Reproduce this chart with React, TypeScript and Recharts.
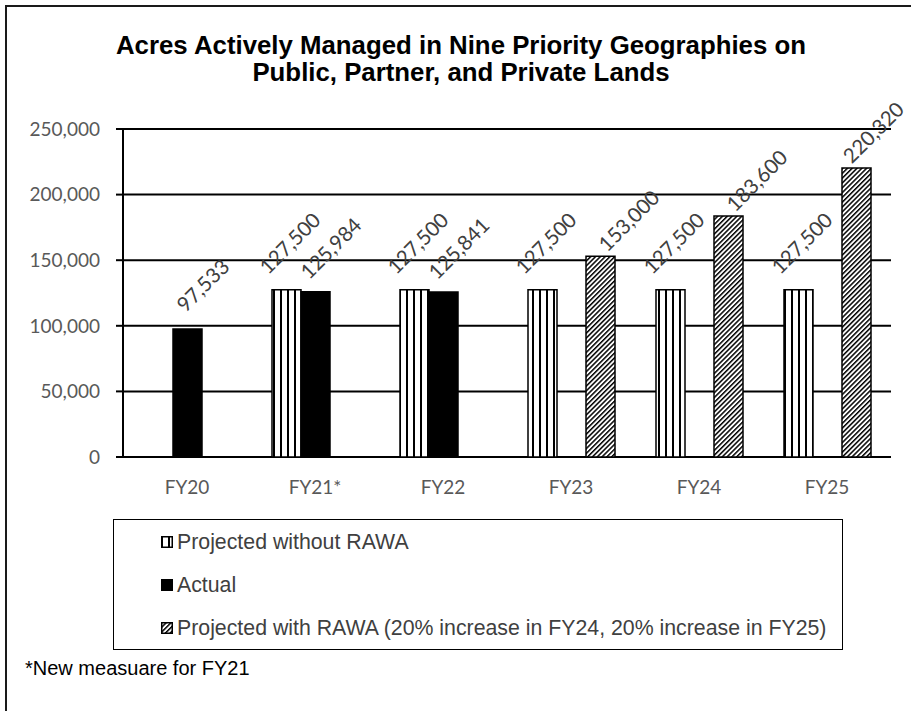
import React from "react";
import { BarChart, Bar, XAxis, YAxis, CartesianGrid, LabelList } from "recharts";

const categories = ["FY20", "FY21*", "FY22", "FY23", "FY24", "FY25"];
const projectedWithout = [null, 127500, 127500, 127500, 127500, 127500];
const actual = [97533, 125984, 125841, null, null, null];
const projectedWith = [null, null, null, 153000, 183600, 220320];
const yTicks = [0, 50000, 100000, 150000, 200000, 250000];
const boundaryTicks = [0, 1, 2, 3, 4, 5, 6];

const seriesNames = {
  without: "Projected without RAWA",
  actual: "Actual",
  with: "Projected with RAWA (20% increase in FY24, 20% increase in FY25)",
};

const data = categories.map((c, i) => ({
  cat: c,
  without: projectedWithout[i],
  actual: actual[i],
  with: projectedWith[i],
}));

const fmt = (v: number) => v.toLocaleString("en-US");
const tickFont = "Lato, 'Open Sans', sans-serif";

const makeLabel = (dx: number, dy: number) => (props: any) => {
  const { x, y, width, value } = props;
  if (value === null || value === undefined) return null;
  const cx = Math.min(Number(x) + Number(width) / 2 + dx, 873);
  const cy = Number(y) + dy;
  return (
    <text
      x={cx}
      y={cy}
      textAnchor="middle"
      dominantBaseline="central"
      fill="#404040"
      fontSize={20.5}
      fontFamily={tickFont}
      transform={`rotate(-45 ${cx} ${cy})`}
    >
      {fmt(Number(value))}
    </text>
  );
};

const LegendIcon = ({ fill }: { fill: string }) => (
  <svg width={12} height={12} style={{ display: "block", marginRight: 4 }}>
    <rect x={0.75} y={0.75} width={10.5} height={10.5} fill={fill} stroke="#000" strokeWidth={1.5} />
  </svg>
);

export default function App() {
  return (
    <div
      style={{
        position: "absolute",
        left: 0,
        top: 0,
        width: 911,
        height: 711,
        background: "#fff",
        overflow: "hidden",
      }}
    >
      <svg width={0} height={0} style={{ position: "absolute" }}>
        <defs>
          <pattern id="vstripe" patternUnits="userSpaceOnUse" width={7} height={10}>
            <rect x={0} y={0} width={7} height={10} fill="#fff" />
            <rect x={0} y={0} width={2} height={10} fill="#000" />
          </pattern>
          <pattern
            id="hatch"
            patternUnits="userSpaceOnUse"
            width={3.4}
            height={3.4}
            patternTransform="rotate(45)"
          >
            <rect x={0} y={0} width={3.4} height={3.4} fill="#fff" />
            <rect x={0} y={0} width={1.5} height={3.4} fill="#000" />
          </pattern>
        </defs>
      </svg>

      <div
        style={{
          position: "absolute",
          left: 5,
          top: 5,
          right: -10,
          bottom: -10,
          borderLeft: "2px solid #1a1a1a",
          borderTop: "2px solid #1a1a1a",
        }}
      />

      <div
        style={{
          position: "absolute",
          left: 0,
          width: 922,
          top: 32,
          textAlign: "center",
          fontFamily: "'Liberation Sans', Arial, sans-serif",
          fontWeight: "bold",
          fontSize: 25.8,
          lineHeight: "27px",
          color: "#000",
        }}
      >
        Acres Actively Managed in Nine Priority Geographies on
        <br />
        Public, Partner, and Private Lands
      </div>

      <div style={{ position: "absolute", left: 0, top: 0 }}>
        <BarChart
          width={911}
          height={520}
          data={data}
          margin={{ top: 129, right: 20, left: 23, bottom: 23 }}
          barCategoryGap={21}
          barGap={0}
        >
          <CartesianGrid vertical={false} stroke="#000" strokeWidth={2} />
          <XAxis
            xAxisId="bounds"
            type="number"
            domain={[0, 6]}
            ticks={boundaryTicks}
            tick={false}
            tickSize={8}
            height={0}
            axisLine={{ stroke: "#000", strokeWidth: 2 }}
            tickLine={{ stroke: "#000", strokeWidth: 2 }}
            allowDataOverflow
          />
          <XAxis
            dataKey="cat"
            height={40}
            axisLine={false}
            tickLine={false}
            tickSize={8}
            tickMargin={16}
            interval={0}
            tick={{ fill: "#595959", fontSize: 19, fontFamily: tickFont }}
          />
          <YAxis
            width={100}
            domain={[0, 250000]}
            ticks={yTicks}
            tickFormatter={fmt}
            tickSize={7}
            tickMargin={16}
            axisLine={{ stroke: "#000", strokeWidth: 2 }}
            tickLine={{ stroke: "#000", strokeWidth: 2 }}
            tick={{ fill: "#595959", fontSize: 19, fontFamily: tickFont }}
          />
          <YAxis
            yAxisId="r"
            orientation="right"
            width={0}
            domain={[0, 250000]}
            tick={false}
            tickLine={false}
            axisLine={{ stroke: "#000", strokeWidth: 2 }}
          />
          <Bar dataKey="without" name={seriesNames.without} fill="url(#vstripe)" stroke="#000" strokeWidth={1.5} isAnimationActive={false}>
            <LabelList dataKey="without" content={makeLabel(3, -47)} />
          </Bar>
          <Bar dataKey="actual" name={seriesNames.actual} fill="#000" stroke="#000" strokeWidth={1.5} isAnimationActive={false}>
            <LabelList dataKey="actual" content={makeLabel(15, -44)} />
          </Bar>
          <Bar dataKey="with" name={seriesNames.with} fill="url(#hatch)" stroke="#000" strokeWidth={1.5} isAnimationActive={false}>
            <LabelList dataKey="with" content={makeLabel(28, -36)} />
          </Bar>
        </BarChart>
      </div>

      <div
        style={{
          position: "absolute",
          left: 113,
          top: 519,
          width: 728,
          height: 129,
          border: "1.5px solid #000",
          fontFamily: "'Liberation Sans', Arial, sans-serif",
          fontSize: 21.3,
          color: "#404040",
        }}
      >
        {[
          { name: seriesNames.without, fill: "url(#vstripe)" },
          { name: seriesNames.actual, fill: "#000" },
          { name: seriesNames.with, fill: "url(#hatch)" },
        ].map((it, i) => (
          <div
            key={i}
            style={{
              position: "absolute",
              left: 47,
              top: 22 + i * 43 - 13,
              height: 26,
              display: "flex",
              alignItems: "center",
              whiteSpace: "nowrap",
            }}
          >
            <LegendIcon fill={it.fill} />
            <span>{it.name}</span>
          </div>
        ))}
      </div>

      <div
        style={{
          position: "absolute",
          left: 25,
          top: 657,
          fontFamily: "'Liberation Sans', Arial, sans-serif",
          fontSize: 20,
          color: "#000",
        }}
      >
        *New measuare for FY21
      </div>
    </div>
  );
}
